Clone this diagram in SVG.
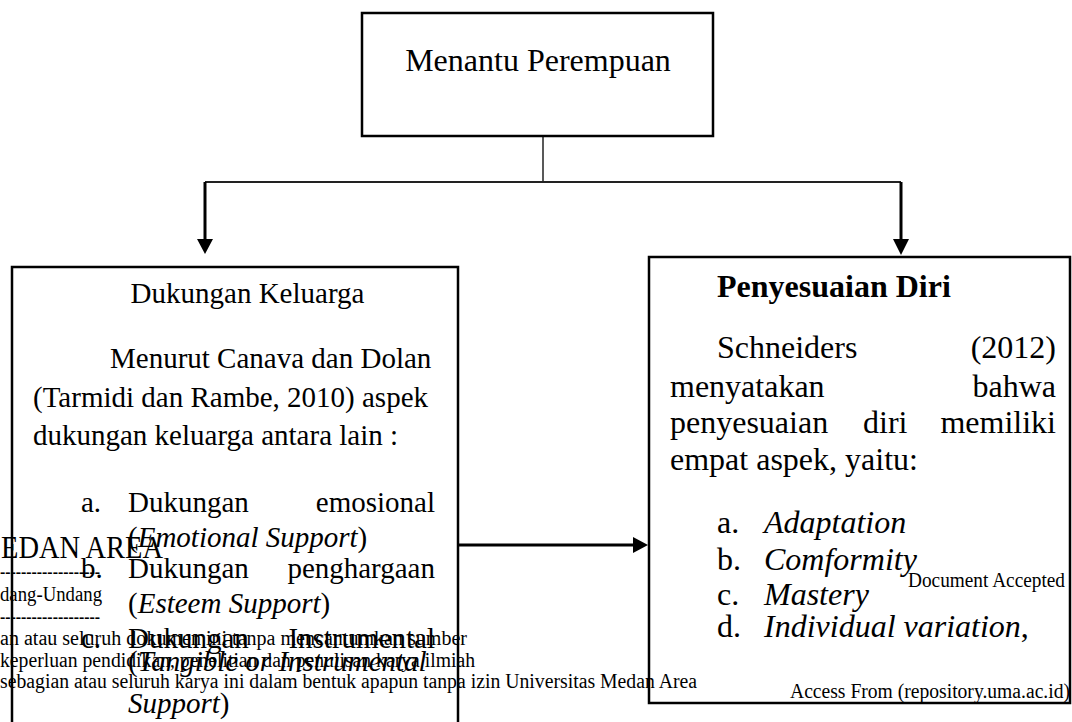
<svg xmlns="http://www.w3.org/2000/svg" width="1072" height="722" viewBox="0 0 1072 722">
<style>
.box{fill:#fff;stroke:#000;stroke-width:2.5}
.t{font-family:"Liberation Serif","Times New Roman",serif;fill:#000}
.l{font-size:29px}
.r{font-size:32px}
.i{font-style:italic}
.wm{font-family:"Liberation Serif","DejaVu Serif",serif;font-size:20px;fill:#000}
.ln{fill:none;stroke:#222;stroke-width:2}
.ar{fill:none;stroke:#000;stroke-width:3}
</style>
<rect width="1072" height="722" fill="#fff"/>
<g id="connectors">
<line class="ln" x1="543" y1="136" x2="543" y2="182" style="stroke-width:1.5"/>
<polyline class="ln" points="205,182 901,182"/>
<line class="ar" x1="205" y1="182" x2="205" y2="241"/>
<polygon points="197,239 213,239 205,254" fill="#000"/>
<line class="ar" x1="901" y1="182" x2="901" y2="241"/>
<polygon points="893,239 909,239 901,255" fill="#000"/>
<line class="ar" x1="458" y1="545" x2="636" y2="545"/>
<polygon points="633,537 633,553 648,545" fill="#000"/>
</g>
<g id="node-menantu">
<rect class="box" x="362" y="13" width="351" height="123"/>
<text class="t" x="538" y="71" font-size="32" text-anchor="middle">Menantu Perempuan</text>
</g>
<g id="node-dukungan">
<rect class="box" x="12" y="267" width="446" height="470"/>
<text class="t l" x="247.5" y="303" text-anchor="middle">Dukungan Keluarga</text>
<text class="t l" x="110" y="368">Menurut Canava dan Dolan</text>
<text class="t l" x="33" y="407">(Tarmidi dan Rambe, 2010) aspek</text>
<text class="t l" x="33" y="445">dukungan keluarga antara lain :</text>
<text class="t l" x="81" y="512">a.</text>
<text class="t l" x="128" y="512">Dukungan</text>
<text class="t l" x="435" y="512" text-anchor="end">emosional</text>
<text class="t l" x="128" y="547">(<tspan class="i">Emotional Support</tspan>)</text>
<text class="t l" x="81" y="578">b.</text>
<text class="t l" x="128" y="578">Dukungan</text>
<text class="t l" x="435" y="578" text-anchor="end">penghargaan</text>
<text class="t l" x="128" y="613">(<tspan class="i">Esteem Support</tspan>)</text>
<text class="t l" x="81" y="648">c.</text>
<text class="t l" x="128" y="648">Dukungan</text>
<text class="t l" x="435" y="648" text-anchor="end">Instrumental</text>
<text class="t l" x="128" y="671">(<tspan class="i">Tangible or Instrumental</tspan></text>
<text class="t l" x="128" y="713"><tspan class="i">Support</tspan>)</text>
</g>
<g id="node-penyesuaian">
<rect class="box" x="649" y="257" width="421" height="446"/>
<text class="t r" x="717" y="297" font-weight="bold">Penyesuaian Diri</text>
<text class="t r" x="717" y="358">Schneiders</text>
<text class="t r" x="1056" y="358" text-anchor="end">(2012)</text>
<text class="t r" x="670" y="397">menyatakan</text>
<text class="t r" x="1056" y="397" text-anchor="end">bahwa</text>
<text class="t r" x="670" y="433">penyesuaian</text>
<text class="t r" x="863" y="433">diri</text>
<text class="t r" x="1056" y="433" text-anchor="end">memiliki</text>
<text class="t r" x="670" y="470">empat aspek, yaitu:</text>
<text class="t r" x="717" y="533">a.</text>
<text class="t r i" x="764" y="533">Adaptation</text>
<text class="t r" x="717" y="570">b.</text>
<text class="t r i" x="764" y="570">Comformity</text>
<text class="t r" x="717" y="605">c.</text>
<text class="t r i" x="764" y="605">Mastery</text>
<text class="t r" x="717" y="637">d.</text>
<text class="t r" x="764" y="637"><tspan class="i">Individual variation</tspan>,</text>
</g>
<g id="watermark">
<text class="wm" x="1" y="558" style="font-size:31px" textLength="162" lengthAdjust="spacingAndGlyphs">EDAN AREA</text>
<text class="wm" x="0" y="578" textLength="100" lengthAdjust="spacingAndGlyphs">-------------------</text>
<text class="wm" x="0" y="601" textLength="102" lengthAdjust="spacingAndGlyphs">dang-Undang</text>
<text class="wm" x="0" y="623" textLength="100" lengthAdjust="spacingAndGlyphs">-------------------</text>
<text class="wm" x="0" y="645" textLength="467" lengthAdjust="spacingAndGlyphs">an atau seluruh dokumen ini tanpa mencantumkan sumber</text>
<text class="wm" x="0" y="667" textLength="475" lengthAdjust="spacingAndGlyphs">keperluan pendidikan, penelitian dan penulisan karya ilmiah</text>
<text class="wm" x="0" y="688" textLength="697" lengthAdjust="spacingAndGlyphs">sebagian atau seluruh karya ini dalam bentuk apapun tanpa izin Universitas Medan Area</text>
<text class="wm" x="908" y="587" textLength="157" lengthAdjust="spacingAndGlyphs">Document Accepted</text>
<text class="wm" x="790" y="698" textLength="280" lengthAdjust="spacingAndGlyphs">Access From (repository.uma.ac.id)</text>
</g>
</svg>
